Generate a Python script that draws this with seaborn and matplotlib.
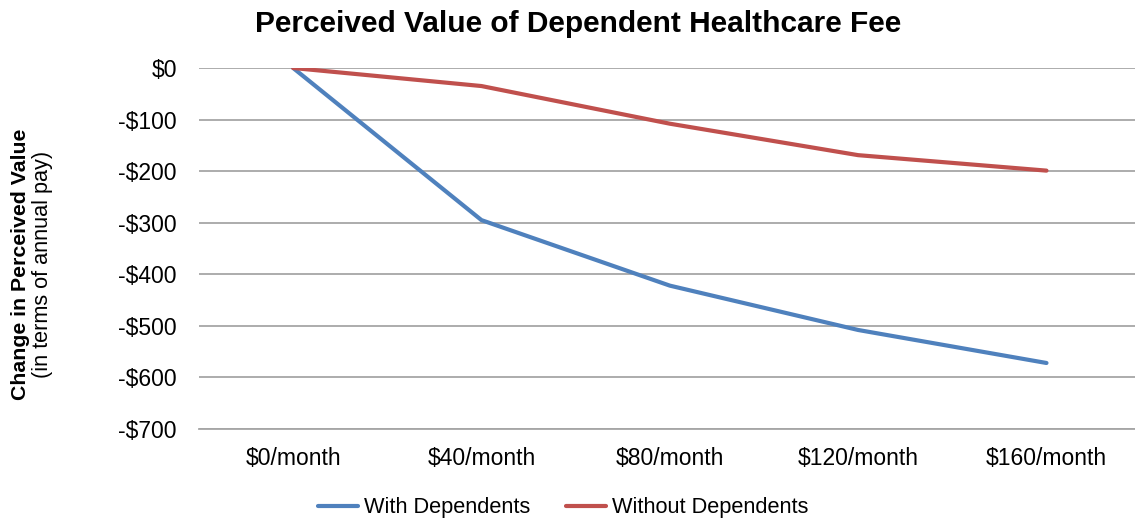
import pandas as pd
import seaborn as sns
import matplotlib.pyplot as plt

fees = ["$0/month", "$40/month", "$80/month", "$120/month", "$160/month"]
with_dependents = [0, -295, -422, -508, -572]
without_dependents = [0, -35, -108, -169, -199]
y_ticks = [0, -100, -200, -300, -400, -500, -600, -700]
y_labels = ["$0", "-$100", "-$200", "-$300", "-$400", "-$500", "-$600", "-$700"]

data = pd.DataFrame({
    "fee": fees * 2,
    "pos": list(range(len(fees))) * 2,
    "value": with_dependents + without_dependents,
    "group": ["With Dependents"] * len(fees) + ["Without Dependents"] * len(fees),
})

sns.set_theme(style="white", rc={"text.color": "#000000"})
plt.rcParams["font.family"] = ["Liberation Sans", "DejaVu Sans"]

f = plt.figure(figsize=[11.35, 5.21], dpi=100)
ax = f.add_axes([199 / 1135, 1 - 429 / 521, 1 - 199 / 1135, (429 - 68) / 521])

palette = {"With Dependents": "#4F81BD", "Without Dependents": "#C0504D"}
sns.lineplot(data, x="pos", y="value", hue="group", palette=palette,
             linewidth=3.0, ax=ax, solid_capstyle="round")

ax.set_xlim(-0.5, 4.47)
ax.set_ylim(-700, 0)
ax.set_yticks(y_ticks)
ax.set_yticklabels(y_labels, fontsize=16.5, color="#000000")
ax.set_xticks(range(len(fees)))
ax.set_xticklabels(fees, fontsize=16.5, color="#000000")
ax.tick_params(axis="both", length=0)
ax.tick_params(axis="y", pad=16)
ax.tick_params(axis="x", pad=13)
ax.grid(axis="y", color="#A6A6A6", linewidth=1.3)
ax.set_axisbelow(True)
for s in ["top", "right", "left"]:
    ax.spines[s].set_visible(False)
ax.spines["bottom"].set_color("#A6A6A6")
ax.spines["bottom"].set_linewidth(1.3)
ax.set_xlabel("")
ax.set_ylabel("")

f.text(0.5 * (255 + 902) / 1135, 1 - 24 / 521, "Perceived Value of Dependent Healthcare Fee",
       ha="center", va="center", fontsize=21.5, fontweight="bold")
f.text(21 / 1135, 1 - 264 / 521, "Change in Perceived Value", rotation=90,
       ha="center", va="center", fontsize=15.3, fontweight="bold")
f.text(43 / 1135, 1 - 264 / 521, "(in terms of annual pay)", rotation=90,
       ha="center", va="center", fontsize=15.6)

handles, labels = ax.get_legend_handles_labels()
ax.legend(handles, labels, loc="center", bbox_to_anchor=(563 / 1135, 1 - 508 / 521),
          bbox_transform=f.transFigure, ncol=2, frameon=False, fontsize=15.7,
          handlelength=1.85, handletextpad=0.25, columnspacing=1.65)

f.savefig("out.png", dpi=100)
